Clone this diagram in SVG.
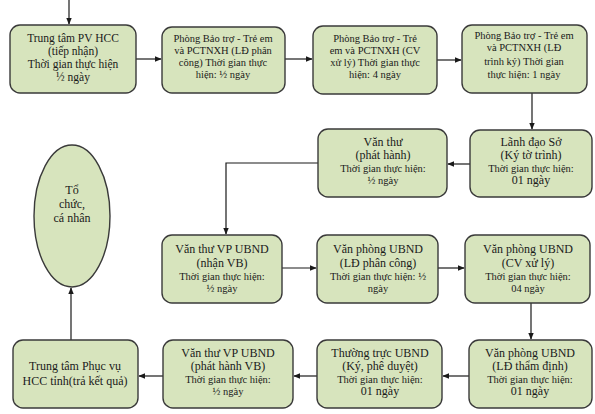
<svg xmlns="http://www.w3.org/2000/svg" width="595" height="414" viewBox="0 0 595 414">
<style>
.n{fill:#d7e4bd;stroke:#3a3a3a;stroke-width:1.4}
.t{font-family:"Liberation Serif","Times New Roman",serif;fill:#1a1a1a;text-anchor:middle}
.a{font-size:12px}
.b{font-size:10.5px}
.f{font-size:11.5px}
.c{stroke:#1a1a1a;stroke-width:1.2;fill:none}
</style>
<defs>
<marker id="ar" viewBox="0 0 10 10" refX="9" refY="5" markerWidth="6" markerHeight="6" orient="auto">
<path d="M0,1 L10,5 L0,9 z" fill="#1a1a1a"/>
</marker>
</defs>
<rect width="595" height="414" fill="#ffffff"/>
<g id="connectors">
<path class="c" d="M69,0 V24" marker-end="url(#ar)"/>
<path class="c" d="M136,59 H161" marker-end="url(#ar)"/>
<path class="c" d="M285,59 H312" marker-end="url(#ar)"/>
<path class="c" d="M437,60 H461" marker-end="url(#ar)"/>
<path class="c" d="M532,93 V129" marker-end="url(#ar)"/>
<path class="c" d="M470,164 H448" marker-end="url(#ar)"/>
<path class="c" d="M318,163 H226 V234" marker-end="url(#ar)"/>
<path class="c" d="M282,268 H316" marker-end="url(#ar)"/>
<path class="c" d="M438,268 H464" marker-end="url(#ar)"/>
<path class="c" d="M531,303 V339" marker-end="url(#ar)"/>
<path class="c" d="M469,376 H443" marker-end="url(#ar)"/>
<path class="c" d="M317,376 H294" marker-end="url(#ar)"/>
<path class="c" d="M163,376 H139" marker-end="url(#ar)"/>
<path class="c" d="M71,340 V288" marker-end="url(#ar)"/>
</g>
<g id="n1"><rect class="n" x="10" y="25" width="126" height="68" rx="10"/>
<text class="t f" x="73" y="42">Trung tâm PV HCC</text>
<text class="t f" x="73" y="55">(tiếp nhận)</text>
<text class="t f" x="73" y="68">Thời gian thực hiện</text>
<text class="t f" x="73" y="81">½ ngày</text></g>
<g id="n2"><rect class="n" x="162" y="27" width="123" height="66" rx="10"/>
<text class="t b" x="223" y="42">Phòng Bảo trợ - Trẻ em</text>
<text class="t b" x="223" y="54">và PCTNXH (LĐ phân</text>
<text class="t b" x="223" y="66">công) Thời gian thực</text>
<text class="t b" x="223" y="78">hiện:  ½ ngày</text></g>
<g id="n3"><rect class="n" x="313" y="26" width="124" height="68" rx="10"/>
<text class="t b" x="375" y="42">Phòng Bảo trợ - Trẻ</text>
<text class="t b" x="375" y="54">em và PCTNXH (CV</text>
<text class="t b" x="375" y="66">xử lý) Thời gian thực</text>
<text class="t b" x="375" y="78">hiện: 4 ngày</text></g>
<g id="n4"><rect class="n" x="462" y="25" width="125" height="68" rx="10"/>
<text class="t b" x="524" y="39">Phòng Bảo trợ - Trẻ em</text>
<text class="t b" x="524" y="51">và PCTNXH (LĐ</text>
<text class="t b" x="524" y="65">trình ký) Thời gian</text>
<text class="t b" x="524" y="78">thực hiện:  1 ngày</text></g>
<g id="n5"><rect class="n" x="470" y="130" width="122" height="67" rx="10"/>
<text class="t a" x="531" y="146">Lãnh đạo Sở</text>
<text class="t a" x="531" y="159">(Ký tờ trình)</text>
<text class="t b" x="531" y="172">Thời gian thực hiện:</text>
<text class="t a" x="531" y="184">01 ngày</text></g>
<g id="n6"><rect class="n" x="318" y="129" width="129" height="68" rx="10"/>
<text class="t a" x="383" y="146">Văn thư</text>
<text class="t a" x="383" y="159">(phát hành)</text>
<text class="t b" x="383" y="172">Thời gian thực hiện:</text>
<text class="t b" x="383" y="184">½ ngày</text></g>
<g id="n7"><ellipse class="n" cx="72" cy="216" rx="38" ry="71"/>
<text class="t a" x="72" y="194">Tổ</text>
<text class="t a" x="72" y="208">chức,</text>
<text class="t a" x="72" y="222">cá nhân</text></g>
<g id="n8"><rect class="n" x="162" y="235" width="120" height="68" rx="10"/>
<text class="t a" x="222" y="253">Văn thư VP UBND</text>
<text class="t a" x="222" y="267">(nhận VB)</text>
<text class="t b" x="222" y="280">Thời gian thực hiện:</text>
<text class="t b" x="222" y="292">½ ngày</text></g>
<g id="n9"><rect class="n" x="317" y="235" width="121" height="68" rx="10"/>
<text class="t a" x="378" y="253">Văn phòng UBND</text>
<text class="t a" x="378" y="267">(LĐ phân công)</text>
<text class="t b" x="378" y="280">Thời gian thực hiện:  ½</text>
<text class="t b" x="378" y="292">ngày</text></g>
<g id="n10"><rect class="n" x="465" y="235" width="125" height="68" rx="10"/>
<text class="t a" x="528" y="253">Văn phòng UBND</text>
<text class="t a" x="528" y="267">(CV xử lý)</text>
<text class="t b" x="528" y="280">Thời gian thực hiện:</text>
<text class="t b" x="528" y="292">04 ngày</text></g>
<g id="n11"><rect class="n" x="469" y="340" width="123" height="68" rx="10"/>
<text class="t a" x="530" y="357">Văn phòng UBND</text>
<text class="t a" x="530" y="370">(LĐ thẩm định)</text>
<text class="t b" x="530" y="383">Thời gian thực hiện:</text>
<text class="t a" x="530" y="395">01 ngày</text></g>
<g id="n12"><rect class="n" x="317" y="340" width="125" height="68" rx="10"/>
<text class="t a" x="380" y="357">Thường trực UBND</text>
<text class="t a" x="380" y="370">(Ký, phê duyệt)</text>
<text class="t b" x="380" y="383">Thời gian thực hiện:</text>
<text class="t a" x="380" y="395">01 ngày</text></g>
<g id="n13"><rect class="n" x="163" y="340" width="130" height="68" rx="10"/>
<text class="t a" x="228" y="357">Văn thư VP UBND</text>
<text class="t a" x="228" y="370">(phát hành VB)</text>
<text class="t b" x="228" y="383">Thời gian thực hiện:</text>
<text class="t b" x="228" y="395">½ ngày</text></g>
<g id="n14"><rect class="n" x="13" y="340" width="125" height="68" rx="10"/>
<text class="t a" x="75" y="370">Trung tâm Phục vụ</text>
<text class="t a" x="75" y="385">HCC tỉnh(trả kết quả)</text></g>
</svg>
